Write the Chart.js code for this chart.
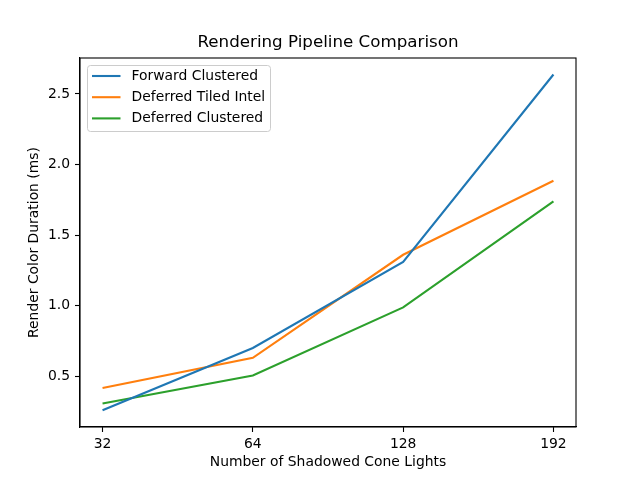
<!DOCTYPE html>
<html lang="en">
<head>
    <meta charset="UTF-8">
    <title>Rendering Pipeline Comparison</title>
    <script src="https://cdn.jsdelivr.net/npm/chart.js"></script>
    <style>
        body { margin: 0; background: #fff; }
    </style>
</head>
<body>
    <canvas id="pipelineChart" width="640" height="480"></canvas>
    <script>
        // category labels along the x axis (number of shadowed cone lights)
        const xLabels = ['32', '64', '128', '192'];

        // render color duration in ms
        const forwardClustered = [0.258, 0.699, 1.309, 2.638];
        const deferredTiledIntel = [0.415, 0.630, 1.360, 1.885];
        const deferredClustered = [0.306, 0.504, 0.987, 1.738];

        const yTicks = [0.5, 1.0, 1.5, 2.0, 2.5];
        const yTickLabels = ['0.5', '1.0', '1.5', '2.0', '2.5'];

        const seriesNames = ['Forward Clustered', 'Deferred Tiled Intel', 'Deferred Clustered'];
        const seriesColors = ['#1f77b4', '#ff7f0e', '#2ca02c'];
        const seriesValues = [forwardClustered, deferredTiledIntel, deferredClustered];

        const FONT = 'DejaVu Sans';

        // title, top/right spines and boxed legend like matplotlib
        const frameAndLegend = {
            id: 'frameAndLegend',
            afterDraw(chart) {
                const ctx = chart.ctx;
                const a = chart.chartArea;
                ctx.save();

                ctx.fillStyle = '#000';
                ctx.font = '16.7px "' + FONT + '"';
                ctx.textAlign = 'center';
                ctx.textBaseline = 'middle';
                ctx.fillText('Rendering Pipeline Comparison', (a.left + a.right) / 2, 43);

                ctx.strokeStyle = '#000';
                ctx.lineWidth = 1.1;
                ctx.strokeRect(a.left, a.top, a.right - a.left, a.bottom - a.top);

                // legend box
                const bx = a.left + 7.5, by = a.top + 7.5, bw = 183, bh = 66, r = 3;
                ctx.beginPath();
                ctx.moveTo(bx + r, by);
                ctx.arcTo(bx + bw, by, bx + bw, by + bh, r);
                ctx.arcTo(bx + bw, by + bh, bx, by + bh, r);
                ctx.arcTo(bx, by + bh, bx, by, r);
                ctx.arcTo(bx, by, bx + bw, by, r);
                ctx.closePath();
                ctx.fillStyle = 'rgba(255,255,255,0.8)';
                ctx.fill();
                ctx.strokeStyle = '#cccccc';
                ctx.lineWidth = 1;
                ctx.stroke();

                ctx.font = '13.9px "' + FONT + '"';
                ctx.textAlign = 'left';
                chart.data.datasets.forEach((ds, i) => {
                    const y = by + 10.5 + i * 21.2;
                    ctx.strokeStyle = ds.borderColor;
                    ctx.lineWidth = 2.1;
                    ctx.beginPath();
                    ctx.moveTo(bx + 4.5, y);
                    ctx.lineTo(bx + 33, y);
                    ctx.stroke();
                    ctx.fillStyle = '#000';
                    ctx.fillText(ds.label, bx + 44, y);
                });
                ctx.restore();
            }
        };

        const ctx = document.getElementById('pipelineChart').getContext('2d');
        new Chart(ctx, {
            type: 'line',
            data: {
                datasets: seriesNames.map((name, i) => ({
                    label: name,
                    data: seriesValues[i].map((v, j) => ({ x: j, y: v })),
                    borderColor: seriesColors[i],
                    backgroundColor: seriesColors[i],
                    borderWidth: 2.1,
                    pointRadius: 0,
                    tension: 0,
                    fill: false
                }))
            },
            options: {
                responsive: false,
                animation: false,
                layout: { padding: { left: 0, right: 64, top: 58, bottom: 0 } },
                plugins: {
                    legend: { display: false },
                    title: { display: false },
                    tooltip: { enabled: false }
                },
                scales: {
                    x: {
                        type: 'linear',
                        min: -0.15,
                        max: 3.15,
                        afterBuildTicks: scale => {
                            scale.ticks = xLabels.map((l, i) => ({ value: i }));
                        },
                        afterFit: scale => { scale.height = 53; },
                        ticks: {
                            callback: v => xLabels[v],
                            color: '#000',
                            font: { family: FONT, size: 13.9 },
                            padding: 4,
                            maxRotation: 0
                        },
                        grid: { drawOnChartArea: false, drawTicks: true, tickLength: 5, tickColor: '#000', tickWidth: 1.1 },
                        border: { display: true, color: '#000', width: 1.1 },
                        title: {
                            display: true,
                            text: 'Number of Shadowed Cone Lights',
                            color: '#000',
                            font: { family: FONT, size: 13.9 },
                            padding: { top: 0, bottom: 9 }
                        }
                    },
                    y: {
                        min: 0.139,
                        max: 2.755,
                        afterBuildTicks: scale => {
                            scale.ticks = yTicks.map(v => ({ value: v }));
                        },
                        afterFit: scale => { scale.width = 80; },
                        ticks: {
                            callback: (v, i) => yTickLabels[i],
                            color: '#000',
                            font: { family: FONT, size: 13.9 },
                            padding: 5
                        },
                        grid: { drawOnChartArea: false, drawTicks: true, tickLength: 5, tickColor: '#000', tickWidth: 1.1 },
                        border: { display: true, color: '#000', width: 1.1 },
                        title: {
                            display: true,
                            text: 'Render Color Duration (ms)',
                            color: '#000',
                            font: { family: FONT, size: 13.9 },
                            padding: { top: 26, bottom: 0 }
                        }
                    }
                }
            },
            plugins: [frameAndLegend]
        });
    </script>
</body>
</html>
